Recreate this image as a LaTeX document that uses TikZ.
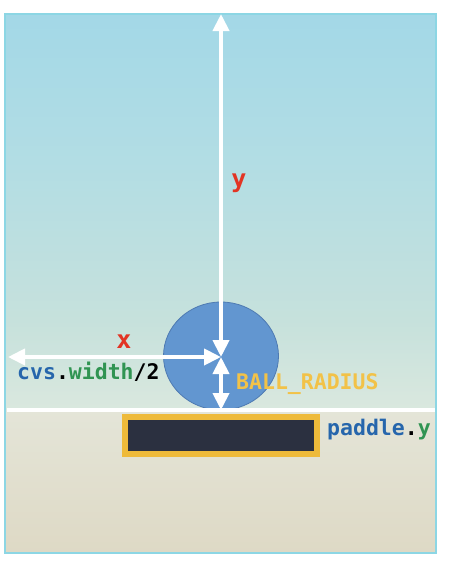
\documentclass[tikz,border=0pt]{standalone}
\usepackage{fontspec}
\setmonofont{DejaVu Sans Mono}
\usetikzlibrary{arrows.meta,shapes.geometric}
\definecolor{cborder}{RGB}{140,214,228}
\definecolor{bgA}{RGB}{163,216,231}
\definecolor{bgB}{RGB}{178,221,228}
\definecolor{bgC}{RGB}{198,225,220}
\definecolor{bgD}{RGB}{218,232,222}
\definecolor{bgE}{RGB}{228,229,216}
\definecolor{bgF}{RGB}{222,217,197}
\definecolor{ballblue}{RGB}{98,150,208}
\definecolor{balledge}{RGB}{78,122,178}
\definecolor{padfill}{RGB}{43,48,64}
\definecolor{padedge}{RGB}{238,186,58}
\definecolor{tblue}{RGB}{38,102,172}
\definecolor{tgreen}{RGB}{48,148,82}
\definecolor{tred}{RGB}{226,52,36}
\definecolor{tyellow}{RGB}{242,194,72}
\tikzset{
  ball/.style={ellipse, fill=ballblue, draw=balledge, line width=0.8pt, minimum width=115pt, minimum height=108pt, inner sep=0pt},
  paddlebox/.style={rectangle, fill=padfill, draw=padedge, line width=6pt, minimum width=192pt, minimum height=37pt, inner sep=0pt},
  warrow/.style={draw=white, line width=4pt, {Triangle[length=17pt,width=16pt]}-{Triangle[length=17pt,width=16pt]}},
  lbl/.style={inner sep=0pt, font=\ttfamily\bfseries\fontsize{21.5}{24}\selectfont},
  biglbl/.style={inner sep=0pt, text=tred, font=\ttfamily\bfseries\fontsize{25}{28}\selectfont},
}
\begin{document}
\begin{tikzpicture}[x=1pt,y=-1pt]
\useasboundingbox (0,0) rectangle (450,562);
\fill[white] (0,0) rectangle (450,562);
% background bands
\shade[top color=bgA, bottom color=bgB] (5,14) rectangle (436,160.5);
\shade[top color=bgB, bottom color=bgC] (5,160) rectangle (436,320.5);
\shade[top color=bgC, bottom color=bgD] (5,320) rectangle (436,410.5);
\shade[top color=bgE, bottom color=bgF] (5,410) rectangle (436,553);
\draw[cborder, line width=2pt] (5,14) rectangle (436,553);
% ball
\node[ball] (ball) at (221,356) {};
\coordinate (top) at (221,14);
\coordinate (left) at (8,357);
\coordinate (floor) at (221,410);
\coordinate (lineL) at (7,410);
\coordinate (lineR) at (435,410);
\coordinate (c) at (221,357);
% floor line
\draw[white, line width=4pt] (lineL) -- (lineR);
% paddle
\node[paddlebox] (paddle) at (221,435.5) {};
% arrows
\draw[warrow] (c) -- (top);
\draw[warrow] (c) -- (left);
\draw[warrow] (c) -- (floor);
% labels
\node[biglbl, anchor=base] (ylab) at (239,187) {y};
\node[biglbl, anchor=base] (xlab) at (124,348) {x};
\node[lbl, anchor=base west] (cvs) at (17,379) {\textcolor{tblue}{cvs}.\textcolor{tgreen}{width}/2};
\node[lbl, anchor=base west, text=tyellow] (br) at (236,389) {BALL\_RADIUS};
\node[lbl, anchor=base west] (py) at (327,435) {\textcolor{tblue}{paddle}.\textcolor{tgreen}{y}};
\end{tikzpicture}
\end{document}
